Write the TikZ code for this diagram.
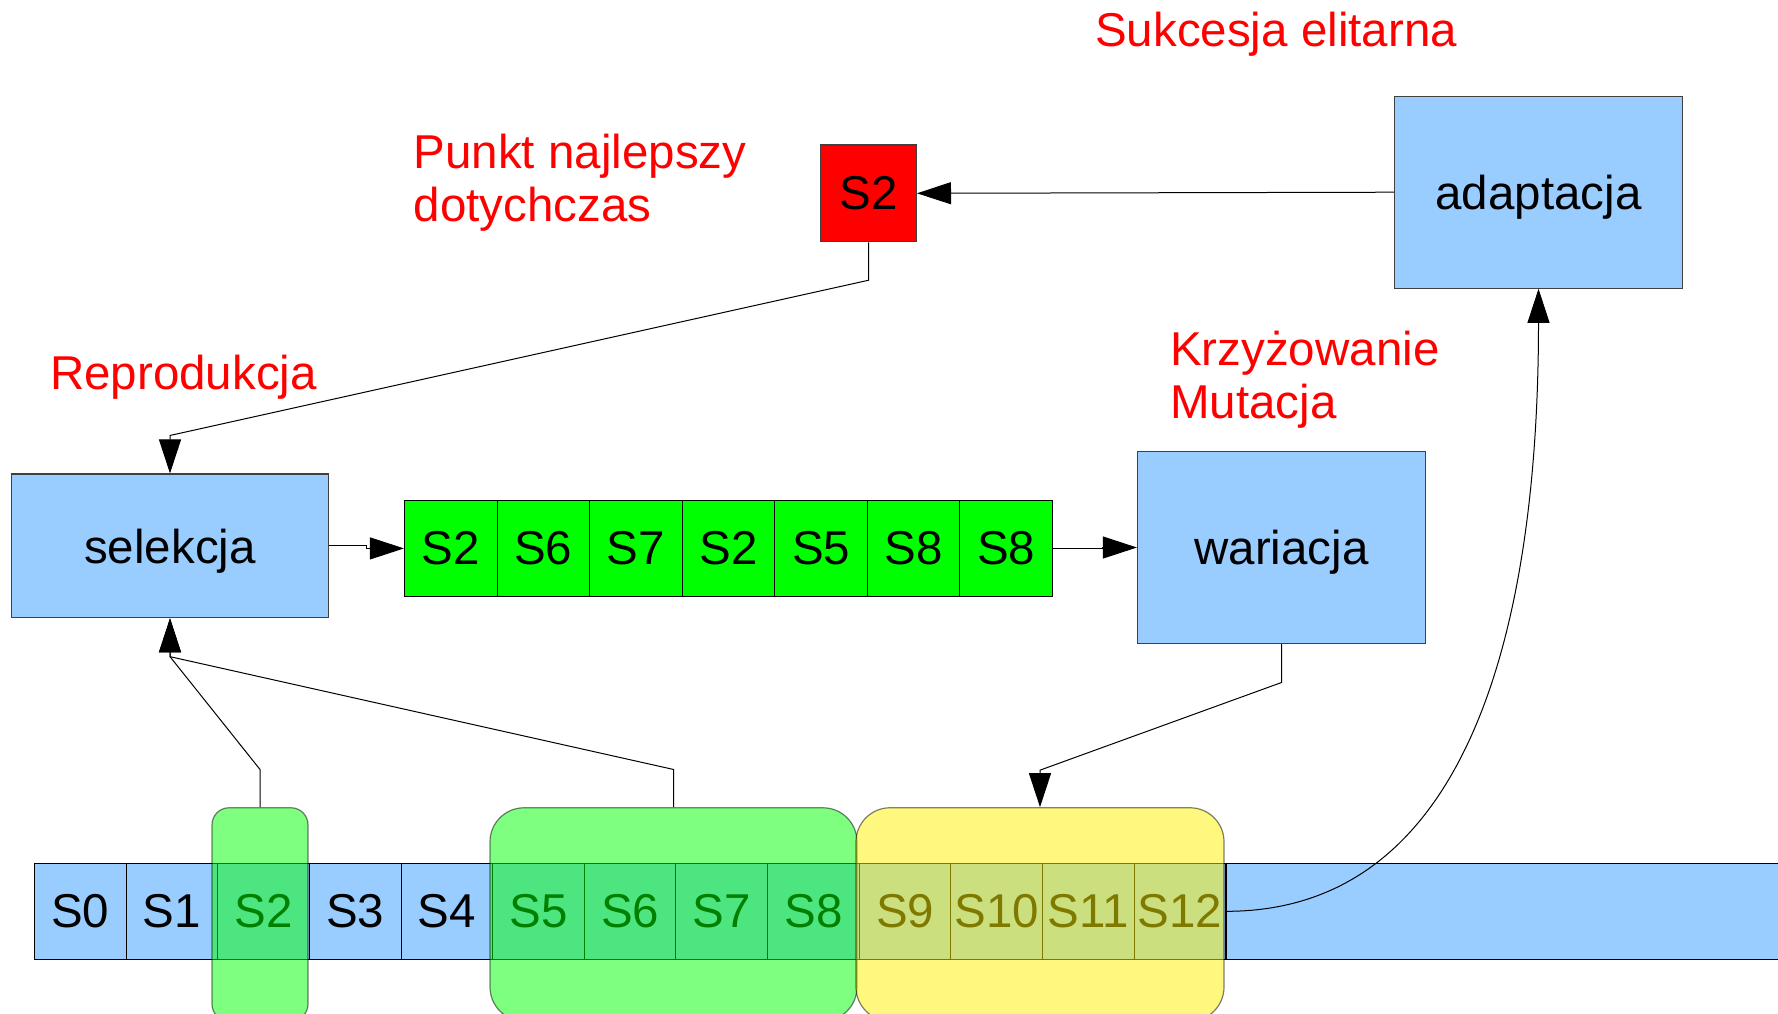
\documentclass[tikz,border=0pt]{standalone}
\usepackage{fontspec}
\setmainfont{Liberation Sans}
\usetikzlibrary{arrows.meta}

\definecolor{procblue}{RGB}{153,204,255}
\definecolor{pickgreen}{RGB}{0,255,0}

\begin{document}
\begin{tikzpicture}[x=1pt,y=1pt,yscale=-1,
  txt/.style={font=\fontsize{47.5}{53}\selectfont},
  proc/.style={txt, draw=black!75, line width=1.2pt, fill=procblue, minimum width=288pt, minimum height=192pt, inner sep=0pt, text depth=0pt},
  cell/.style={txt, draw=black, line width=1pt, fill=procblue, minimum width=91.66pt, minimum height=96pt, inner sep=0pt},
  pick/.style={txt, draw=black, line width=1pt, fill=pickgreen, minimum width=92.57pt, minimum height=95.3pt, inner sep=0pt},
  grp/.style={draw=black, line width=1.2pt, opacity=0.5, minimum height=213.3pt, inner sep=0pt},
  note/.style={txt, text=red, inner sep=0pt, align=left},
  link/.style={draw=black, line width=1pt, -{Triangle[length=34pt,width=22pt]}}
]
\useasboundingbox (0,0) rectangle (1778,1013);

% processing blocks
\node[proc] (adapt) at (1538.5,192.2) {adaptacja};
\node[proc, minimum width=316.6pt, minimum height=143.7pt] (sel) at (170,545.9) {selekcja};
\node[proc] (war) at (1281.5,547.5) {wariacja};
\node[proc, fill=red, minimum width=95.8pt, minimum height=96.7pt] (best) at (868.5,193.3) {S2};

% selected parents
\foreach \s [count=\i] in {S2,S6,S7,S2,S5,S8,S8}
  \node[pick] (p\i) at ({404.5+92.57*\i-46.3},548.4) {\s};

% population
\foreach \i in {0,...,12}
  \node[cell] (c\i) at ({80.2+91.66*\i},911.3) {S\i};
\node[cell, anchor=west, minimum width=570pt] (tail) at (c12.east) {};

% groups over the population
\node[grp, fill=green, rounded corners=17pt, minimum width=96pt] (g1) at (260,914.4) {};
\node[grp, fill=green, rounded corners=34pt, minimum width=367pt] (g2) at (673.5,914.4) {};
\node[grp, fill=yellow, rounded corners=34pt, minimum width=368pt] (g3) at (1040,914.4) {};

% labels
\node[note, anchor=base west] (sukc) at (1095,46.7) {Sukcesja elitarna};
\node[note, anchor=north west] (punkt) at (413.5,133.7) {Punkt najlepszy\\dotychczas};
\node[note, anchor=base west] (repr) at (50,389) {Reprodukcja};
\node[note, anchor=north west] (krzyz) at (1170,331) {Krzyżowanie\\Mutacja};

% connections (yshift is flipped by yscale=-1)
\draw[link] (adapt.west) -- (best.east);
\draw[link] (best.south) -- ++(0,38) -- ([yshift=-38pt]sel.north) -- (sel.north);
\draw[link] (sel.east) -- ++(38,0) |- (p1.west);
\draw[link] (p7.east) -- ++(50,0) |- (war.west);
\draw[link] (war.south) -- ++(0,38.4) -- ([yshift=-37pt]g3.north) -- (g3.north);
\draw[link] (g1.north) -- ++(0,-37.7) -- ([yshift=38.3pt]sel.south) -- (sel.south);
\draw[link] (g2.north) -- ++(0,-37.7) -- ([yshift=38.3pt]sel.south) -- (sel.south);
\draw[link] (c12.east) .. controls +(254,0) and +(0,311) .. (adapt.south);

\end{tikzpicture}
\end{document}
